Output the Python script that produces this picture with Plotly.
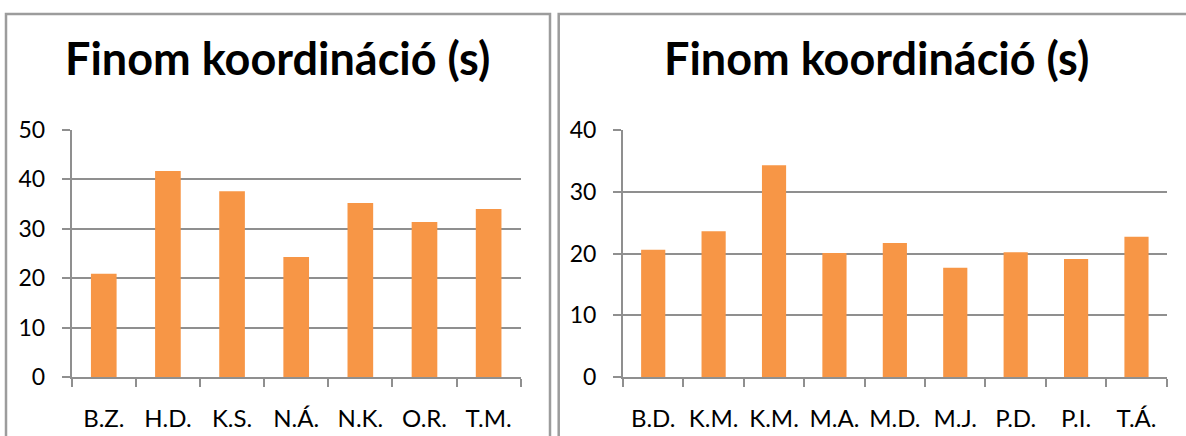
import plotly.graph_objects as go

# Finom koordináció (s) – two groups of children
left_names = ["B.Z.", "H.D.", "K.S.", "N.Á.", "N.K.", "O.R.", "T.M."]
left_vals = [20.9, 41.7, 37.6, 24.3, 35.2, 31.4, 34.0]

right_names = ["B.D.", "K.M.", "K.M.", "M.A.", "M.D.", "M.J.", "P.D.", "P.I.", "T.Á."]
right_vals = [20.6, 23.6, 34.3, 20.1, 21.7, 17.7, 20.2, 19.1, 22.7]

left_ymax = 50
right_ymax = 40
title_text = "Finom koordináció (s)"

W, H = 1186, 436
BAR = "#F79646"
GRID = "#8f8f8f"
FRAME = "#9c9c9c"
FONT = "Lato"
XTICK_SIZE = 24
YTICK_SIZE = 23
TITLE_SIZE = 45


def px_x(v):
    return v / W


def px_y(v):
    return 1 - v / H


fig = go.Figure()

fig.add_trace(go.Bar(x=list(range(len(left_vals))), y=left_vals,
                     marker=dict(color=BAR, line=dict(width=0)),
                     xaxis="x", yaxis="y", showlegend=False))
fig.add_trace(go.Bar(x=list(range(len(right_vals))), y=right_vals,
                     marker=dict(color=BAR, line=dict(width=0)),
                     xaxis="x2", yaxis="y2", showlegend=False))


def x_axis(names, domain, anchor):
    n = len(names)
    return dict(
        domain=domain, anchor=anchor, automargin=False,
        range=[-0.5, n - 0.5],
        tickmode="array", tickvals=list(range(n)), ticktext=names,
        ticks="", showgrid=False, zeroline=False,
        showline=True, linecolor=GRID, linewidth=2,
        tickfont=dict(family=FONT, size=XTICK_SIZE, color="#000000"),
        ticklabelstandoff=19,
        minor=dict(tickmode="array", tickvals=[i - 0.5 for i in range(n + 1)],
                   ticks="outside", ticklen=8, tickcolor=GRID, tickwidth=2,
                   showgrid=False),
        fixedrange=True,
    )


def y_axis(ymax, domain, anchor):
    return dict(
        domain=domain, anchor=anchor, automargin=False,
        range=[0, ymax], tickmode="linear", tick0=0, dtick=10,
        showgrid=True, gridcolor=GRID, gridwidth=2,
        zeroline=False, showline=True, linecolor=GRID, linewidth=2,
        ticks="outside", ticklen=8, tickcolor=GRID, tickwidth=2,
        tickfont=dict(family=FONT, size=YTICK_SIZE, color="#000000"),
        ticklabelstandoff=12,
        fixedrange=True,
    )


ydom = [px_y(377), px_y(130)]

fig.update_layout(
    template="none",
    width=W, height=H, autosize=False,
    margin=dict(l=0, r=0, t=0, b=0, pad=0),
    paper_bgcolor="white", plot_bgcolor="white",
    bargap=0.6,
    xaxis=x_axis(left_names, [px_x(71.7), px_x(520.7)], "y"),
    yaxis=y_axis(left_ymax, ydom, "x"),
    xaxis2=x_axis(right_names, [px_x(623), px_x(1166.7)], "y2"),
    yaxis2=y_axis(right_ymax, ydom, "x2"),
    shapes=[
        dict(type="rect", xref="paper", yref="paper",
             x0=px_x(6), x1=px_x(550), y0=px_y(445), y1=px_y(14),
             line=dict(color=FRAME, width=2.5), fillcolor="rgba(0,0,0,0)",
             layer="below"),
        dict(type="rect", xref="paper", yref="paper",
             x0=px_x(558.7), x1=px_x(1195), y0=px_y(445), y1=px_y(14),
             line=dict(color=FRAME, width=2.5), fillcolor="rgba(0,0,0,0)",
             layer="below"),
    ],
    annotations=[
        dict(text="<b>" + title_text + "</b>", xref="paper", yref="paper",
             x=px_x(277.5), y=px_y(58), xanchor="center", yanchor="middle",
             showarrow=False, font=dict(family=FONT, size=TITLE_SIZE, color="#000000")),
        dict(text="<b>" + title_text + "</b>", xref="paper", yref="paper",
             x=px_x(876), y=px_y(58), xanchor="center", yanchor="middle",
             showarrow=False, font=dict(family=FONT, size=TITLE_SIZE, color="#000000")),
    ],
)

fig.write_html("out.html")
